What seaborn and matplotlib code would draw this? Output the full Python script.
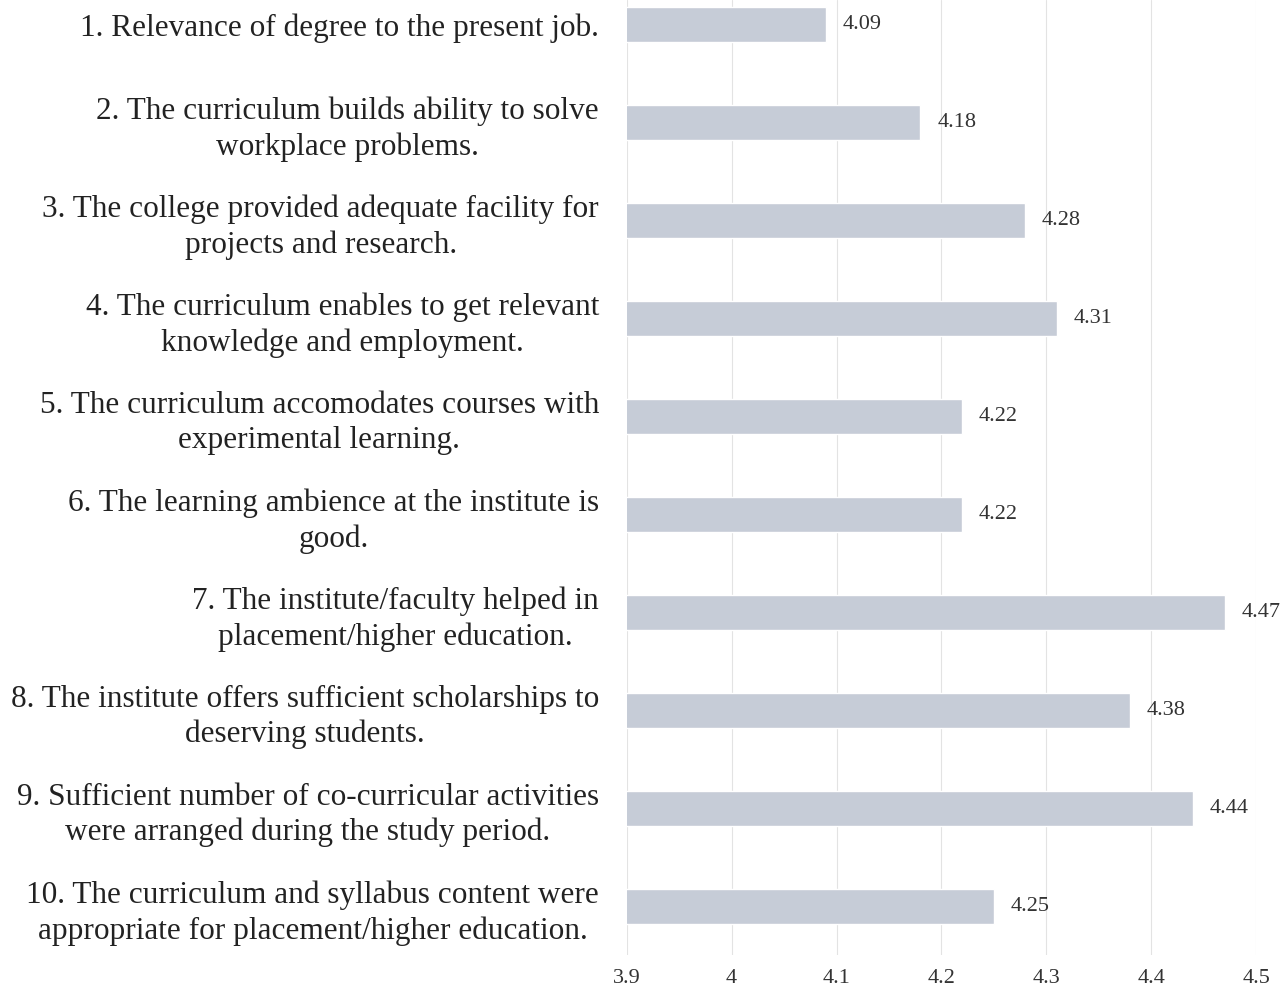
import matplotlib
matplotlib.use("Agg")
import matplotlib.pyplot as plt
import seaborn as sns
import pandas as pd

statements = [
    "1. Relevance of degree to the present job.",
    "2. The curriculum builds ability to solve\nworkplace problems.",
    "3. The college provided adequate facility for\nprojects and research.",
    "4. The curriculum enables to get relevant\nknowledge and employment.",
    "5. The curriculum accomodates courses with\nexperimental learning.",
    "6. The learning ambience at the institute is\ngood.",
    "7. The institute/faculty helped in\nplacement/higher education.",
    "8. The institute offers sufficient scholarships to\ndeserving students.",
    "9. Sufficient number of co-curricular activities\nwere arranged during the study period.",
    "10. The curriculum and syllabus content were\nappropriate for placement/higher education.",
]
scores = [4.09, 4.18, 4.28, 4.31, 4.22, 4.22, 4.47, 4.38, 4.44, 4.25]
x_ticks = [3.9, 4.0, 4.1, 4.2, 4.3, 4.4, 4.5]
x_tick_labels = ["3.9", "4", "4.1", "4.2", "4.3", "4.4", "4.5"]

df = pd.DataFrame({"statement": statements, "score": scores})

sns.set_style("white")
plt.rcParams['font.family'] = ['Liberation Serif', 'DejaVu Serif']

fig = plt.figure(figsize=(12.87, 9.9), dpi=100)
ax = fig.add_axes([0.487, 0.035, 0.489, 0.965])

sns.barplot(data=df, x="score", y="statement", orient="h", color="#c6ccd7",
            width=0.35, saturation=1, ax=ax)

ax.set_xlim(3.9, 4.5)
ax.set_ylim(9.5, -0.25)
ax.set_xticks(x_ticks)
ax.set_xticklabels(x_tick_labels, fontsize=16, color="#333333")
ax.grid(axis="x", color="#e3e3e3", linewidth=0.8)
ax.set_axisbelow(True)
for s in ax.spines.values():
    s.set_visible(False)

ax.tick_params(axis="y", length=0, pad=20)
ax.tick_params(axis="x", length=0, pad=10)
for lab in ax.get_yticklabels():
    lab.set_fontsize(22.5)
    lab.set_multialignment("center")
    lab.set_linespacing(1.28)
    lab.set_color("#222222")

ax.bar_label(ax.containers[0], fmt="%.2f", padding=12, fontsize=16, color="#333333")
ax.set_xlabel("")
ax.set_ylabel("")

fig.savefig("out.png", dpi=100)
